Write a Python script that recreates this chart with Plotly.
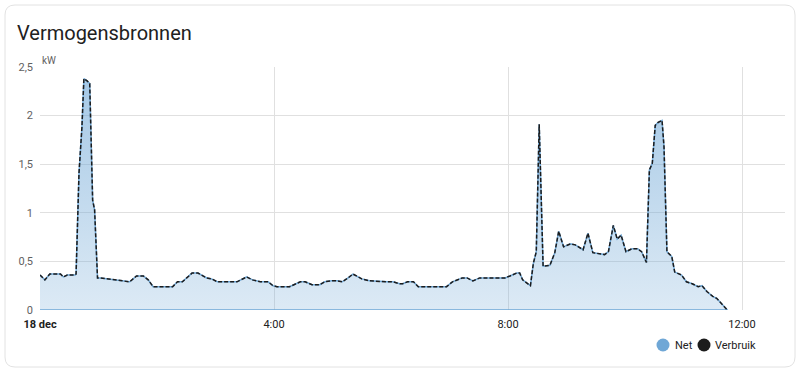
import plotly.graph_objects as go
import pandas as pd

# ---- data (minutes after midnight on 18 dec, kW) ----
verbruik_min = [0, 5, 10, 21, 24, 28, 36, 37, 40, 43, 45, 48, 51, 54, 56, 59, 62, 82, 92, 99,
                106, 111, 116, 136, 141, 146, 156, 162, 171, 176, 182, 202, 212, 218, 226, 234, 239,
                243, 256, 267, 272, 279, 287, 292, 299, 305, 310, 316, 321, 330, 338, 356, 362, 369,
                372, 377, 383, 388, 417, 423, 433, 438, 444, 451, 477, 482, 489, 492, 495, 503, 506,
                509, 512, 516, 523, 528, 532, 537, 544, 549, 557, 562, 567, 579, 583, 588, 592, 596,
                601, 607, 613, 617, 622, 625, 628, 631, 634, 638, 640, 643, 648, 651, 658, 663, 669,
                675, 679, 684, 690, 694, 700, 705]
verbruik_kw = [0.36, 0.31, 0.37, 0.37, 0.34, 0.36, 0.36, 0.37, 1.41, 1.88, 2.38, 2.36, 2.33, 1.13, 1.03, 0.33, 0.33, 0.30, 0.29, 0.35,
               0.35, 0.31, 0.24, 0.24, 0.29, 0.29, 0.38, 0.38, 0.33, 0.32, 0.29, 0.29, 0.34, 0.31, 0.29, 0.29, 0.25,
               0.24, 0.24, 0.29, 0.29, 0.26, 0.26, 0.29, 0.30, 0.30, 0.29, 0.33, 0.37, 0.32, 0.30, 0.29, 0.29, 0.27,
               0.27, 0.29, 0.29, 0.24, 0.24, 0.29, 0.33, 0.33, 0.30, 0.33, 0.33, 0.35, 0.38, 0.38, 0.31, 0.25, 0.48,
               0.60, 1.91, 0.45, 0.46, 0.59, 0.81, 0.65, 0.68, 0.67, 0.62, 0.79, 0.59, 0.57, 0.60, 0.87, 0.73, 0.77,
               0.60, 0.63, 0.63, 0.60, 0.49, 1.44, 1.51, 1.90, 1.93, 1.95, 1.68, 0.60, 0.55, 0.39, 0.36, 0.29, 0.27,
               0.24, 0.25, 0.19, 0.14, 0.12, 0.05, 0.0]
net_min = [0, 705]
net_kw = [0.0, 0.0]

series_names = ["Net", "Verbruik"]
y_ticks = [0, 0.5, 1, 1.5, 2, 2.5]
y_labels = ["0", "0,5", "1", "1,5", "2", "2,5"]
x_tick_hours = [0, 4, 8, 12]
x_labels = ["<b>18 dec</b>", "4:00", "8:00", "12:00"]

base = pd.Timestamp("2023-12-18 00:00")
vx = [base + pd.Timedelta(minutes=m) for m in verbruik_min]
nx = [base + pd.Timedelta(minutes=m) for m in net_min]
xt = [base + pd.Timedelta(hours=h) for h in x_tick_hours]

BLUE = "#6fa7d6"
DARK = "#1c1c1c"

# layout geometry (pixels)
W, H = 800, 373
L, R, T, B = 40, 785, 67, 310

fig = go.Figure()

fig.add_trace(go.Scatter(
    x=vx, y=verbruik_kw, mode="lines", showlegend=False, hoverinfo="skip",
    line=dict(color=BLUE, width=1.5),
    fill="tozeroy",
    fillgradient=dict(type="vertical",
                      colorscale=[[0, "rgba(111,167,214,0.24)"], [1, "rgba(111,167,214,0.62)"]]),
))
fig.add_trace(go.Scatter(
    x=nx, y=net_kw, mode="lines", name=series_names[0], showlegend=False,
    line=dict(color=BLUE, width=1.5),
))
fig.add_trace(go.Scatter(
    x=vx, y=verbruik_kw, mode="lines", name=series_names[1], showlegend=False,
    line=dict(color=DARK, width=1.5, dash="4px,2px"),
))

def px_x(p):
    return (p - L) / (R - L)

def px_y(p):
    return (B - p) / (B - T)

# card with rounded corners
x0, y0, x1, y1, r = 5, 5, 795, 367, 10
path = (f"M {px_x(x0+r)},{px_y(y0)} L {px_x(x1-r)},{px_y(y0)} "
        f"Q {px_x(x1)},{px_y(y0)} {px_x(x1)},{px_y(y0+r)} "
        f"L {px_x(x1)},{px_y(y1-r)} Q {px_x(x1)},{px_y(y1)} {px_x(x1-r)},{px_y(y1)} "
        f"L {px_x(x0+r)},{px_y(y1)} Q {px_x(x0)},{px_y(y1)} {px_x(x0)},{px_y(y1-r)} "
        f"L {px_x(x0)},{px_y(y0+r)} Q {px_x(x0)},{px_y(y0)} {px_x(x0+r)},{px_y(y0)} Z")

shapes = [dict(type="path", path=path, xref="paper", yref="paper",
               line=dict(color="#e2e2e2", width=1), fillcolor="rgba(0,0,0,0)", layer="below")]
annotations = [dict(text="kW", x=0, y=px_y(60), xref="paper", yref="paper",
                    xanchor="left", yanchor="middle", showarrow=False,
                    font=dict(size=10, color="#616161"))]

# legend (circles + labels)
legend_cx = [663, 704]
legend_tx = [673, 713]
legend_cols = [BLUE, DARK]
LY, RAD = 345, 6.5
for cx, tx, col, name in zip(legend_cx, legend_tx, legend_cols, series_names):
    shapes.append(dict(type="circle", xref="paper", yref="paper",
                       x0=px_x(cx - RAD), x1=px_x(cx + RAD),
                       y0=px_y(LY + RAD), y1=px_y(LY - RAD),
                       fillcolor=col, line=dict(width=0)))
    annotations.append(dict(text=name, x=px_x(tx), y=px_y(LY), xref="paper", yref="paper",
                            xanchor="left", yanchor="middle", showarrow=False,
                            font=dict(size=11, color="#212121")))

fig.update_layout(
    width=W, height=H,
    margin=dict(l=L, r=W - R, t=T, b=H - B),
    paper_bgcolor="white", plot_bgcolor="rgba(0,0,0,0)",
    font=dict(family="Roboto, sans-serif", color="#616161", size=11),
    separators=",.",
    showlegend=False,
    shapes=shapes,
    annotations=annotations,
    title=dict(text="Vermogensbronnen", x=17 / W, xanchor="left", xref="container",
               y=1 - 33 / H, yanchor="middle", yref="container",
               font=dict(size=20, color="#212121", family="Roboto, sans-serif")),
    xaxis=dict(type="date", range=[base, base + pd.Timedelta(hours=(R - L) / 58.5)],
               tickvals=xt, ticktext=x_labels, showgrid=True, gridcolor="#e0e0e0", gridwidth=1,
               zeroline=False, showline=False, ticks="", ticklabelstandoff=6,
               tickfont=dict(size=11, color="#212121")),
    yaxis=dict(range=[0, 2.5], tickvals=y_ticks, ticktext=y_labels, showgrid=True,
               gridcolor="#e0e0e0", gridwidth=1, zeroline=False, showline=False, ticks="",
               ticklabelstandoff=6, tickfont=dict(size=11, color="#616161")),
)

fig.write_html("out.html")
